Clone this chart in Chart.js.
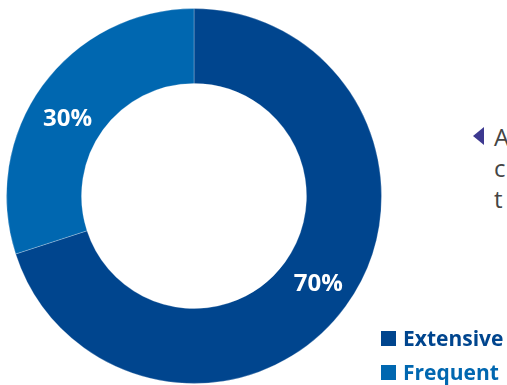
<!DOCTYPE html>
<html>
<head>
<meta charset="utf-8">
<script src="https://cdn.jsdelivr.net/npm/chart.js@4"></script>
<style>
  html, body { margin: 0; padding: 0; background: #fff; }
  body { width: 507px; height: 385px; position: relative; overflow: hidden; font-family: "Open Sans", sans-serif; }
  #wrap { position: absolute; left: 6px; top: 8px; width: 376px; height: 376px; }
  #tri { position: absolute; left: 473px; top: 127px; width: 0; height: 0; border-top: 9px solid transparent; border-bottom: 9px solid transparent; border-right: 11px solid #3d3990; }
  #note { position: absolute; left: 494px; top: 121px; color: #444; font-size: 24px; line-height: 31px; white-space: nowrap; }
  #legend { position: absolute; left: 381px; top: 321px; }
  .item { display: flex; align-items: center; height: 34px; font-weight: 700; font-size: 21px; }
  .sw { width: 15px; height: 15px; margin-right: 7px; }
</style>
</head>
<body>
<div id="wrap"><canvas id="c"></canvas></div>
<div id="tri"></div>
<div id="note"></div>
<div id="legend"></div>
<script>
const categories = ["Extensive", "Frequent"];
const shares = [70, 30];
const colors = ["#00458e", "#0067b0"];
const noteLines = ["A", "c", "t"];

// white percentage text inside each ring segment
const labelNudge = [[3, 0], [-5, 11]];
const ringLabels = {
  id: "ringLabels",
  afterDatasetsDraw(chart) {
    const ctx = chart.ctx;
    const meta = chart.getDatasetMeta(0);
    ctx.save();
    ctx.fillStyle = "#ffffff";
    ctx.font = "700 24px 'Open Sans', sans-serif";
    ctx.textAlign = "center";
    ctx.textBaseline = "middle";
    meta.data.forEach((arc, i) => {
      const p = arc.tooltipPosition();
      ctx.fillText(shares[i] + "%", p.x + labelNudge[i][0], p.y + labelNudge[i][1]);
    });
    ctx.restore();
  }
};

new Chart(document.getElementById("c"), {
  type: "doughnut",
  data: {
    labels: categories,
    datasets: [{
      data: shares,
      backgroundColor: colors,
      borderColor: "rgba(255,255,255,0.25)",
      borderWidth: 1
    }]
  },
  options: {
    responsive: true,
    maintainAspectRatio: false,
    animation: false,
    cutout: "60%",
    layout: { padding: 0 },
    plugins: { legend: { display: false }, tooltip: { enabled: false } }
  },
  plugins: [ringLabels]
});

// side note text
const note = document.getElementById("note");
noteLines.forEach((t) => {
  const d = document.createElement("div");
  d.textContent = t;
  note.appendChild(d);
});

// legend built from the category list
const legend = document.getElementById("legend");
categories.forEach((name, i) => {
  const row = document.createElement("div");
  row.className = "item";
  row.style.color = colors[i];
  const sw = document.createElement("span");
  sw.className = "sw";
  sw.style.background = colors[i];
  row.appendChild(sw);
  row.appendChild(document.createTextNode(name));
  legend.appendChild(row);
});
</script>
</body>
</html>
